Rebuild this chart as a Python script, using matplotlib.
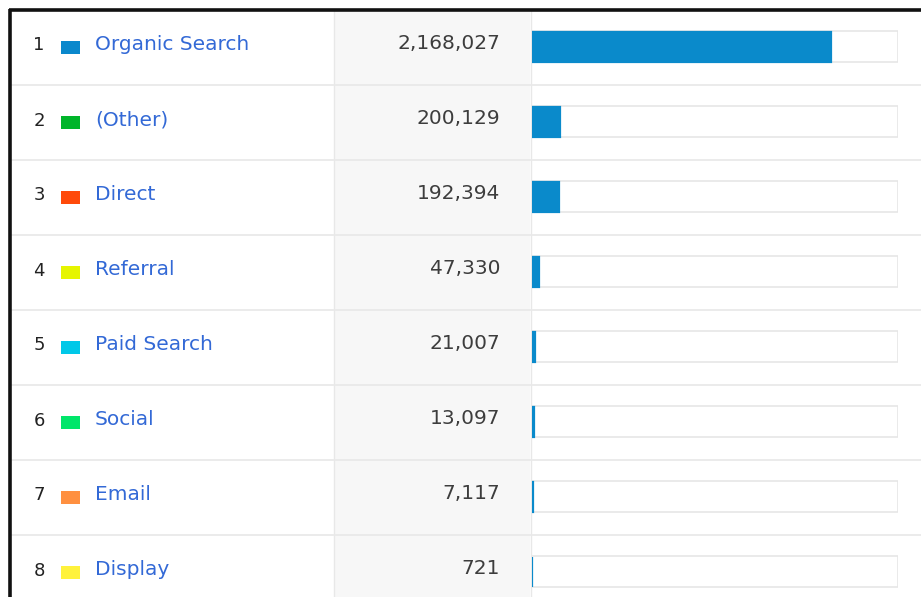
import numpy as np
import matplotlib
matplotlib.use("Agg")
import matplotlib.pyplot as plt
from matplotlib.patches import Rectangle

# channel grouping table, sessions per channel
channels = ["Organic Search", "(Other)", "Direct", "Referral",
            "Paid Search", "Social", "Email", "Display"]
sessions = [2168027, 200129, 192394, 47330, 21007, 13097, 7117, 721]
swatch_colors = ["#0a88cc", "#00b52a", "#ff4a0a", "#e6f500",
                 "#00c8e8", "#00e66a", "#ff9040", "#fff23c"]

share = np.array(sessions) / sum(sessions)

W, H = 921, 597
top, row_h = 10, 75
rows = np.arange(len(channels))
row_mid = top + row_h * rows + row_h / 2

plt.rcParams["font.family"] = ["DejaVu Sans"]
fig = plt.figure(figsize=(W / 100, H / 100), dpi=100)
ax = fig.add_axes([0, 0, 1, 1])
ax.set_xlim(0, W)
ax.set_ylim(H, 0)
ax.axis("off")

# shaded value column and column dividers
ax.add_patch(Rectangle((334, top), 196, H - top, facecolor="#f7f7f7", edgecolor="none"))
ax.plot([333.5, 333.5], [top, H], color="#e8e8e8", lw=1)
ax.plot([530.5, 530.5], [top, H], color="#e8e8e8", lw=1)

# row separators
for i in rows[1:]:
    y = top + row_h * i
    ax.plot([12, W], [y, y], color="#e8e8e8", lw=1.2)

# frame on top and left
ax.plot([9, W], [9.5, 9.5], color="#111111", lw=2.6, solid_capstyle="butt")
ax.plot([10, 10], [8.5, H], color="#111111", lw=2.6, solid_capstyle="butt")

for i, (name, val, c) in enumerate(zip(channels, sessions, swatch_colors)):
    y = row_mid[i] - 3
    ax.text(39, y + 1, str(i + 1), ha="center", va="center", fontsize=13, color="#222222")
    ax.add_patch(Rectangle((61, y - 4), 19, 13, facecolor=c, edgecolor="none"))
    ax.text(95, y, name, ha="left", va="center", fontsize=14.5, color="#3369d6")
    ax.text(500, y - 1, f"{val:,}", ha="right", va="center",
            fontsize=14.5, color="#3d3d3d")

# bar column: each track is 100% of all sessions
bx = fig.add_axes([532 / W, 0, (898 - 532) / W, 1])
bx.set_xlim(0, 1)
bx.set_ylim(H, 0)
bx.axis("off")
bx.barh(row_mid - 1, np.ones(len(rows)), height=31, left=0,
        facecolor="white", edgecolor="#e6e6e6", linewidth=1.2)
bx.barh(row_mid - 1, share, height=30, left=0,
        color="#0a8acb", edgecolor="#0a8acb", linewidth=1.6)

fig.savefig("out.png", dpi=100)
